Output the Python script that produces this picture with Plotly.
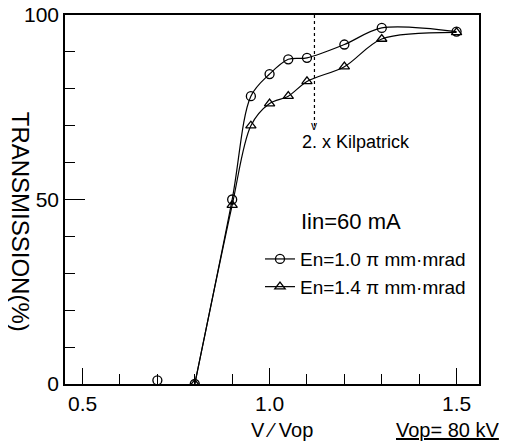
import plotly.graph_objects as go

# Data
v_circ = [0.7, 0.8, 0.9, 0.95, 1.0, 1.05, 1.1, 1.2, 1.3, 1.5]
t_circ = [1, 0, 50, 78, 84, 88, 88.4, 92, 96.5, 95.5]
v_tri = [0.8, 0.9, 0.95, 1.0, 1.05, 1.1, 1.2, 1.3, 1.5]
t_tri = [0, 48.5, 70, 76, 78, 82, 86, 93.5, 95.3]
x_tickvals = [0.5, 1.0, 1.5]
x_ticktext = ["0.5", "1.0", "1.5"]
y_tickvals = [0, 50, 100]
y_ticktext = ["0", "50", "100"]
kilpatrick_v = 1.12
kilpatrick_top = 100
kilpatrick_bottom = 70

BASE = "Liberation Sans, Arial, sans-serif"

fig = go.Figure()
# off-curve point (below threshold), marker only
fig.add_trace(go.Scatter(
    x=v_circ[:1], y=t_circ[:1], mode="markers", showlegend=False,
    marker=dict(symbol="circle-open", size=9, color="black", line=dict(width=1.3)),
))
fig.add_trace(go.Scatter(
    x=v_circ[1:], y=t_circ[1:], mode="lines+markers",
    name="En=1.0 π mm·mrad",
    line=dict(color="black", width=1.2, shape="spline", smoothing=0.9),
    marker=dict(symbol="circle-open", size=9, color="black", line=dict(width=1.3)),
))
fig.add_trace(go.Scatter(
    x=v_tri, y=t_tri, mode="lines+markers",
    name="En=1.4 π mm·mrad",
    line=dict(color="black", width=1.2, shape="spline", smoothing=0.9),
    marker=dict(symbol="triangle-up-open", size=9, color="black", line=dict(width=1.3)),
))

# Kilpatrick marker
fig.add_shape(type="line", x0=kilpatrick_v, x1=kilpatrick_v, y0=kilpatrick_top, y1=kilpatrick_bottom,
              xref="x", yref="y", line=dict(color="black", width=1.2, dash="dot"))
fig.add_annotation(x=kilpatrick_v, y=kilpatrick_bottom, text="v", showarrow=False,
                   font=dict(family=BASE, size=12, color="black"), yanchor="middle")
fig.add_annotation(x=1.232, y=65.5, text="2. x Kilpatrick", showarrow=False,
                   font=dict(family=BASE, size=18, color="black"), yanchor="middle")
fig.add_annotation(x=1.217, y=44, text="Iin=60 mA", showarrow=False,
                   font=dict(family=BASE, size=22, color="black"), yanchor="middle")

# axis labels
fig.add_annotation(x=-0.109, y=0.44, xref="paper", yref="paper", text="TRANSMISSION(%)",
                   textangle=90, showarrow=False, xanchor="center", yanchor="middle",
                   font=dict(family=BASE, size=24, color="black"))
fig.add_annotation(x=0.523, y=-0.125, xref="paper", yref="paper", text="V ⁄ Vop",
                   showarrow=False, xanchor="center", yanchor="middle",
                   font=dict(family=BASE, size=20, color="black"))
fig.add_annotation(x=1.055, y=-0.125, xref="paper", yref="paper", text="<u>Vop= 80 kV</u>",
                   xanchor="right", yanchor="middle", showarrow=False,
                   font=dict(family=BASE, size=20, color="black"))

fig.update_xaxes(range=[0.453, 1.56], showline=True, mirror=True, linecolor="black", linewidth=1.5,
                 tickvals=x_tickvals, ticktext=x_ticktext, ticks="inside", ticklen=16, tickwidth=1.2,
                 tickcolor="black", showgrid=False, zeroline=False, automargin=False,
                 ticklabeloverflow="allow",
                 tickfont=dict(family=BASE, size=21, color="black"),
                 minor=dict(tick0=0.5, dtick=0.1, ticks="inside", ticklen=10, tickwidth=1.2,
                            tickcolor="black", showgrid=False))
fig.update_yaxes(range=[0, 100], showline=True, mirror=True, linecolor="black", linewidth=1.5,
                 tickvals=y_tickvals, ticktext=y_ticktext, ticks="inside", ticklen=20, tickwidth=1.2,
                 tickcolor="black", showgrid=False, zeroline=False, automargin=False,
                 ticklabeloverflow="allow",
                 tickfont=dict(family=BASE, size=21, color="black"),
                 minor=dict(tick0=0, dtick=10, ticks="inside", ticklen=10, tickwidth=1.2,
                            tickcolor="black", showgrid=False))

# page body has an 8px margin, so the figure is sized to fit the 507x446 window
fig.update_layout(
    width=499, height=438,
    margin=dict(l=57, r=28, t=7, b=62, autoexpand=False),
    paper_bgcolor="white", plot_bgcolor="white",
    showlegend=True,
    legend=dict(x=0.471, y=0.39, xanchor="left", yanchor="top", bgcolor="rgba(0,0,0,0)",
                font=dict(family=BASE, size=19, color="black"), itemwidth=30, tracegroupgap=0),
)
fig.write_html("out.html")
